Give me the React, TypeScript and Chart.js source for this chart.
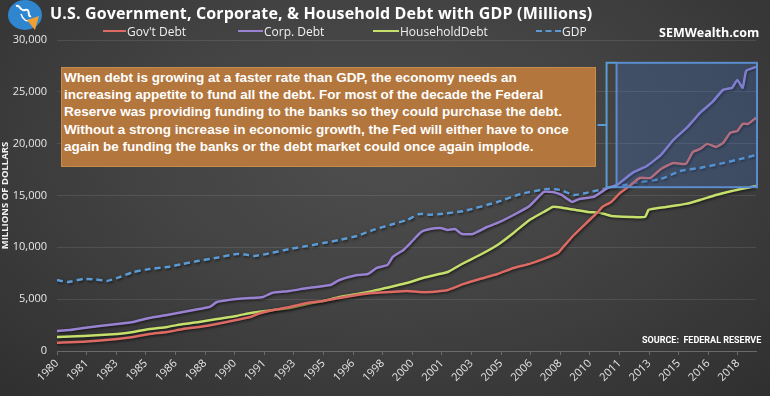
import React, { useEffect, useRef } from "react";
import { Chart, registerables } from "chart.js";

Chart.register(...registerables);

// ---- Data (values in millions of dollars) ----
const govYears = [1980, 1981.5, 1983.4, 1984.3, 1985.2, 1986.2, 1987.1, 1988, 1989, 1990.1, 1990.9, 1991.3, 1992.2, 1993.1, 1994.1, 1995, 1995.9, 1996.9, 1997.8, 1998.75, 1999.7, 2000.4, 2001, 2001.6, 2002, 2002.9, 2003.8, 2004.8, 2005.7, 2006.6, 2007.4, 2008.2, 2008.5, 2009.1, 2009.8, 2010.4, 2010.7, 2011.2, 2011.7, 2012.3, 2012.8, 2013.4, 2014, 2014.7, 2015.4, 2015.8, 2016.2, 2016.6, 2017.1, 2017.5, 2017.9, 2018.3, 2018.6, 2018.9, 2019.35];
const govValues = [800, 900, 1160, 1350, 1640, 1830, 2120, 2320, 2600, 2990, 3280, 3570, 3960, 4250, 4630, 4830, 5110, 5400, 5600, 5690, 5790, 5690, 5690, 5790, 5890, 6470, 6950, 7430, 8010, 8400, 8880, 9460, 10040, 11190, 12350, 13320, 13900, 14380, 15250, 16020, 16690, 16690, 17560, 18140, 18050, 19200, 19490, 19980, 19690, 20070, 21040, 21230, 21910, 21910, 22490];

const corpYears = [1980, 1980.7, 1981.5, 1982.4, 1983.4, 1984.3, 1985.2, 1986.2, 1987.1, 1988, 1988.6, 1989, 1990.1, 1990.9, 1991.6, 1992.1, 1993.1, 1994.1, 1995.4, 1995.9, 1996.9, 1997.5, 1998, 1998.6, 1998.9, 1999.5, 1999.9, 2000.5, 2001, 2001.6, 2002, 2002.4, 2002.8, 2003.4, 2004.2, 2004.8, 2005.7, 2006.6, 2007.4, 2007.9, 2008.4, 2009, 2009.4, 2010.2, 2011, 2011.5, 2012.4, 2013.2, 2014, 2014.7, 2015.5, 2016.2, 2016.9, 2017.5, 2018, 2018.3, 2018.6, 2018.8, 2019.35];
const corpValues = [1930, 2030, 2220, 2410, 2600, 2800, 3180, 3470, 3760, 4050, 4250, 4730, 5020, 5110, 5210, 5600, 5790, 6080, 6370, 6850, 7330, 7430, 8010, 8300, 9070, 9750, 10420, 11480, 11770, 11870, 11680, 11770, 11290, 11290, 11960, 12350, 13120, 13990, 15340, 15340, 15050, 14380, 14670, 14860, 15730, 16000, 17180, 17850, 18910, 20360, 21620, 22970, 24030, 25190, 25380, 26150, 25380, 27020, 27400];

const houseYears = [1980, 1981.5, 1983.4, 1984.3, 1985.2, 1986.2, 1987.1, 1988, 1989, 1990.1, 1990.9, 1991.3, 1992.2, 1993.1, 1994.1, 1995, 1995.9, 1996.9, 1997.8, 1998.75, 1999.7, 2000.6, 2001.6, 2002, 2002.9, 2003.8, 2004.8, 2005.7, 2006.6, 2007.4, 2007.9, 2008.5, 2009.2, 2009.9, 2010.6, 2011.2, 2012.3, 2013.1, 2013.3, 2013.5, 2014.3, 2015.4, 2016.2, 2017.1, 2018, 2018.8, 2019.35];
const houseValues = [1350, 1450, 1640, 1830, 2120, 2320, 2600, 2800, 3090, 3380, 3670, 3760, 3960, 4150, 4540, 4830, 5210, 5500, 5790, 6180, 6560, 7040, 7450, 7620, 8490, 9260, 10230, 11390, 12640, 13410, 13900, 13800, 13610, 13410, 13320, 13030, 12930, 12930, 13610, 13700, 13900, 14190, 14570, 15050, 15440, 15730, 15920];

const gdpYears = [1980, 1980.6, 1981.5, 1982.2, 1982.8, 1983.4, 1984.3, 1985.2, 1986.2, 1987.1, 1988, 1989, 1990.1, 1990.6, 1991.1, 1991.8, 1993.1, 1994.1, 1995, 1995.9, 1996.9, 1997.8, 1998.75, 1999.7, 2000.4, 2001, 2001.6, 2002.9, 2004.8, 2006.1, 2007.6, 2008.3, 2009.1, 2009.8, 2011, 2011.7, 2012.8, 2014, 2015.1, 2016.2, 2017.3, 2018.5, 2019.35];
const gdpValues = [6850, 6650, 6950, 6900, 6750, 7050, 7620, 7900, 8100, 8400, 8700, 9000, 9360, 9300, 9170, 9360, 9840, 10130, 10420, 10710, 11100, 11680, 12160, 12640, 13220, 13150, 13220, 13500, 14380, 15150, 15630, 15540, 15050, 15250, 15730, 15920, 16300, 16600, 17370, 17660, 18050, 18530, 18910];

const xTickLabels = ["1980", "1981", "1983", "1985", "1986", "1988", "1990", "1991", "1993", "1995", "1996", "1998", "2000", "2001", "2003", "2005", "2006", "2008", "2010", "2011", "2013", "2015", "2016", "2018"];
const seriesNames = ["Gov't Debt", "Corp. Debt", "HouseholdDebt", "GDP"];
const seriesColors = ["#dd6a63", "#9a82d2", "#c6e06c", "#5b9bd5"];

const noteLines = [
  "When debt is growing at a faster rate than GDP, the economy needs an",
  "increasing appetite to fund all the debt. For most of the decade the Federal",
  "Reserve was providing funding to the banks so they could purchase the debt.",
  "Without a strong increase in economic growth, the Fed will either have to once",
  "again be funding the banks or the debt market could once again implode.",
];

const toPoints = (xs: number[], ys: number[]) => xs.map((x, i) => ({ x, y: ys[i] }));

function Logo() {
  return (
    <svg width="40" height="34" viewBox="0 0 40 34" style={{ position: "absolute", left: 5, top: 0 }}>
      <ellipse cx="20" cy="15" rx="17" ry="15" fill="#2f86cf" />
      <path d="M11 6 C16 4 14 12 20 10 S22 18 26 16" stroke="#fff" strokeWidth="2" fill="none" />
      <path d="M16 14 C18 20 22 22 24 20" stroke="#fff" strokeWidth="1.5" fill="none" />
      <polygon points="22,20 34,16 30,30" fill="#f0a030" />
    </svg>
  );
}

export default function App() {
  const canvasRef = useRef<HTMLCanvasElement>(null);

  useEffect(() => {
    if (!canvasRef.current) return;

    const shadowPlugin = {
      id: "lineShadow",
      beforeDatasetsDraw(chart: any) {
        const ctx = chart.ctx;
        ctx.save();
        ctx.shadowColor = "rgba(0,0,0,0.7)";
        ctx.shadowBlur = 3;
        ctx.shadowOffsetX = 1;
        ctx.shadowOffsetY = 1;
      },
      afterDatasetsDraw(chart: any) {
        chart.ctx.restore();
      },
    };

    const highlightPlugin = {
      id: "highlightBox",
      afterDatasetsDraw(chart: any) {
        const { ctx, chartArea } = chart;
        const xs = chart.scales.x;
        const ys = chart.scales.y;
        const left = xs.getPixelForValue(2011.5);
        const right = chartArea.right + 1;
        const top = ys.getPixelForValue(27800);
        const bottom = ys.getPixelForValue(15800);
        ctx.save();
        ctx.fillStyle = "rgba(70,120,200,0.28)";
        ctx.fillRect(left, top, right - left, bottom - top);
        ctx.strokeStyle = "#5b8ccf";
        ctx.lineWidth = 2;
        ctx.strokeRect(left, top, right - left, bottom - top);
        const bx = left - 10;
        const mid = (top + bottom) / 2;
        ctx.strokeStyle = "#5b9bd5";
        ctx.beginPath();
        ctx.moveTo(left, top);
        ctx.lineTo(bx, top);
        ctx.lineTo(bx, bottom);
        ctx.lineTo(left, bottom);
        ctx.moveTo(bx, mid);
        ctx.lineTo(bx - 9, mid);
        ctx.stroke();
        ctx.restore();
      },
    };

    const chart = new Chart(canvasRef.current, {
      type: "line",
      data: {
        datasets: [
          { label: seriesNames[0], data: toPoints(govYears, govValues), borderColor: seriesColors[0], borderWidth: 2.5, pointRadius: 0, tension: 0.15 },
          { label: seriesNames[1], data: toPoints(corpYears, corpValues), borderColor: seriesColors[1], borderWidth: 2.5, pointRadius: 0, tension: 0.15 },
          { label: seriesNames[2], data: toPoints(houseYears, houseValues), borderColor: seriesColors[2], borderWidth: 2.5, pointRadius: 0, tension: 0.15 },
          { label: seriesNames[3], data: toPoints(gdpYears, gdpValues), borderColor: seriesColors[3], borderWidth: 2.5, borderDash: [6, 4], pointRadius: 0, tension: 0.15 },
        ],
      },
      options: {
        animation: false,
        responsive: false,
        layout: { padding: { top: 40, right: 14, left: 0, bottom: 0 } },
        plugins: { legend: { display: false }, tooltip: { enabled: false } },
        scales: {
          x: {
            type: "linear",
            min: 1980,
            max: 2019.35,
            afterBuildTicks: (scale: any) => {
              scale.ticks = xTickLabels.map((_, i) => ({ value: 1980 + (i * 5) / 3 }));
            },
            afterFit: (scale: any) => {
              scale.height = 45;
            },
            ticks: {
              autoSkip: false,
              minRotation: 45,
              maxRotation: 45,
              color: "#e6e6e6",
              font: { family: "'Open Sans', sans-serif", size: 11 },
              padding: 2,
              callback: (_v: any, i: number) => xTickLabels[i],
            },
            grid: { drawOnChartArea: false, drawTicks: true, tickLength: 4, color: "#6a6a6a" },
            border: { display: true, color: "#6a6a6a", width: 1 },
          },
          y: {
            min: 0,
            max: 30000,
            afterFit: (scale: any) => {
              scale.width = 57;
            },
            ticks: {
              stepSize: 5000,
              color: "#e6e6e6",
              padding: 10,
              font: { family: "'Open Sans', sans-serif", size: 11 },
              callback: (v: any) => Number(v).toLocaleString("en-US"),
            },
            title: {
              display: true,
              text: "MILLIONS OF DOLLARS",
              color: "#f2f2f2",
              padding: { top: 0, bottom: 0 },
              font: { family: "'Open Sans', sans-serif", size: 9.5, weight: "bold" },
            },
            grid: { color: "rgba(255,255,255,0.1)", drawTicks: false },
            border: { display: false },
          },
        },
      },
      plugins: [shadowPlugin, highlightPlugin],
    } as any);

    return () => chart.destroy();
  }, []);

  const legendItems = [
    { x: 103, w: 23 },
    { x: 238, w: 25 },
    { x: 373, w: 26 },
    { x: 536, w: 25 },
  ];

  return (
    <div
      style={{
        position: "fixed",
        left: 0,
        top: 0,
        width: 770,
        height: 396,
        overflow: "hidden",
        background: "radial-gradient(ellipse 75% 90% at 50% 38%, #4e4e4e 0%, #424242 45%, #2e2e2e 100%)",
        fontFamily: "'Open Sans', sans-serif",
      }}
    >
      <canvas ref={canvasRef} width={770} height={396} style={{ position: "absolute", left: 0, top: 0 }} />
      <Logo />
      <div style={{ position: "absolute", left: 50, top: 2, color: "#fff", fontWeight: 700, fontSize: 16, whiteSpace: "nowrap", letterSpacing: 0.15 }}>
        U.S. Government, Corporate, &amp; Household Debt with GDP (Millions)
      </div>
      {seriesNames.map((name, i) => (
        <div key={name} style={{ position: "absolute", left: legendItems[i].x, top: 23, height: 16, display: "flex", alignItems: "center", color: "#f0f0f0", fontSize: 12, whiteSpace: "nowrap" }}>
          <span
            style={{
              display: "inline-block",
              width: legendItems[i].w,
              height: 0,
              borderTop: i === 3 ? `2px dashed ${seriesColors[i]}` : `2px solid ${seriesColors[i]}`,
              marginRight: 1,
            }}
          />
          {name}
        </div>
      ))}
      <div style={{ position: "absolute", left: 659, top: 24, color: "#fff", fontWeight: 700, fontSize: 12.5, whiteSpace: "nowrap" }}>SEMWealth.com</div>
      <div
        style={{
          position: "absolute",
          left: 61,
          top: 67,
          width: 535,
          height: 100,
          boxSizing: "border-box",
          background: "#b3763c",
          border: "1px solid #c98a4c",
          padding: "1px 0 0 2px",
          color: "#fff",
          fontFamily: "'Liberation Sans', Arial, sans-serif",
          fontWeight: 700,
          fontSize: 13.5,
          lineHeight: "17.2px",
          whiteSpace: "nowrap",
        }}
      >
        {noteLines.map((l) => (
          <div key={l}>{l}</div>
        ))}
      </div>
      <div style={{ position: "absolute", left: 642, top: 335, color: "#fff", fontWeight: 700, fontSize: 9, whiteSpace: "nowrap", fontFamily: "'Liberation Sans Narrow', 'Roboto', sans-serif" }}>
        SOURCE:&nbsp; FEDERAL RESERVE
      </div>
    </div>
  );
}
